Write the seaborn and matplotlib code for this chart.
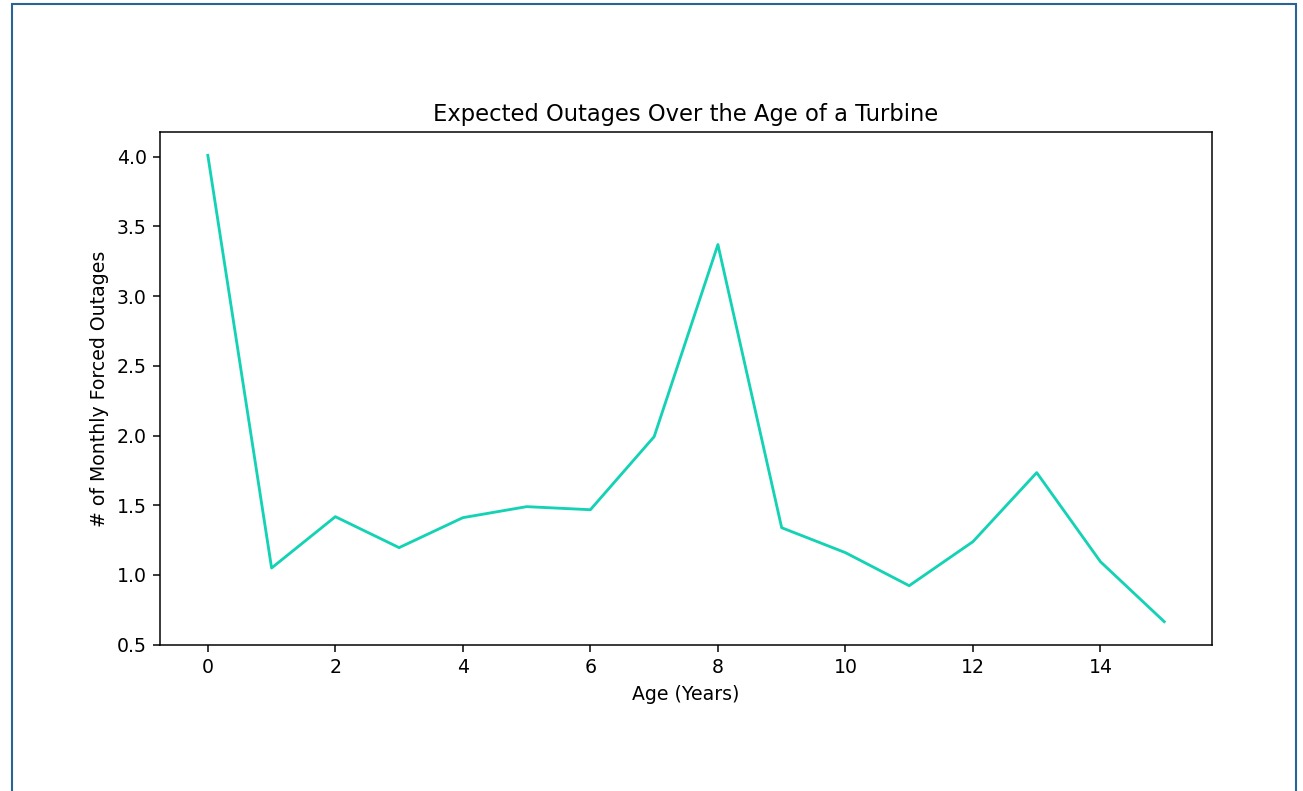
import matplotlib
matplotlib.use("Agg")
import matplotlib.pyplot as plt
from matplotlib.patches import Rectangle
import pandas as pd
import seaborn as sns

age_years = [0, 1, 2, 3, 4, 5, 6, 7, 8, 9, 10, 11, 12, 13, 14, 15]
forced_outages = [4.01, 1.05, 1.418, 1.196, 1.411, 1.49, 1.468, 1.992,
                  3.37, 1.339, 1.16, 0.923, 1.239, 1.734, 1.095, 0.665]

df = pd.DataFrame({"age": age_years, "outages": forced_outages})

# reference looks like a default matplotlib figure rendered ~1.36x larger
s = 1.36
plt.rcParams.update({
    "axes.linewidth": 0.8 * s,
    "xtick.major.size": 3.5 * s, "ytick.major.size": 3.5 * s,
    "xtick.major.width": 0.8 * s, "ytick.major.width": 0.8 * s,
    "xtick.major.pad": 3.5 * s, "ytick.major.pad": 3.5 * s,
    "axes.titlepad": 6.0 * s, "axes.labelpad": 4.0 * s,
})

fig = plt.figure(figsize=(13.03, 7.91), dpi=100)
ax = fig.add_axes([0.1228, 0.1846, 0.8074, 0.6485])

sns.lineplot(data=df, x="age", y="outages", color="#14d2b4", linewidth=1.5 * s, ax=ax)

ax.set_title("Expected Outages Over the Age of a Turbine", fontsize=12 * s)
ax.set_xlabel("Age (Years)", fontsize=10 * s)
ax.set_ylabel("# of Monthly Forced Outages", fontsize=10 * s)
ax.tick_params(labelsize=10 * s)

# thin frame around the whole picture
fig.patches.append(Rectangle((12 / 1303, -0.01), (1296 - 12) / 1303, 1 - 4 / 791 + 0.01,
                             transform=fig.transFigure, fill=False,
                             edgecolor="#2a6496", linewidth=1.5))

fig.savefig("out.png", dpi=100)
